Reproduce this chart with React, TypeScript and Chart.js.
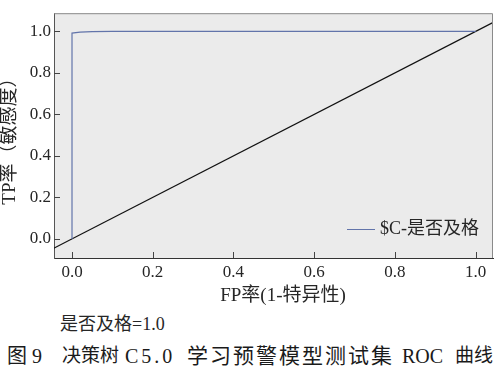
import React, { useEffect, useRef } from "react";
import { Chart, registerables } from "chart.js";

Chart.register(...registerables);

// ---- data ----
const fprValues = [0, 0, 0.02, 0.05, 0.1, 1.0];
const tprValues = [0, 0.992, 0.996, 0.999, 1.0, 1.0];
const diagonalX = [-0.1, 1.1];
const diagonalY = [-0.1, 1.1];
const xTickValues = [0, 0.2, 0.4, 0.6, 0.8, 1.0];
const yTickValues = [0, 0.2, 0.4, 0.6, 0.8, 1.0];
const seriesLabel = "$C-是否及格";
const xTitle = "FP率(1-特异性)";
const yTitle = "TP率（敏感度）";
const footnote = "是否及格=1.0";
const captionParts = [
  { text: "图", left: 7, size: 20, spacing: 0 },
  { text: "9", left: 32, size: 20, spacing: 0 },
  { text: "决策树", left: 62, size: 19, spacing: 0 },
  { text: "C5.0", left: 125, size: 20, spacing: 3 },
  { text: "学习预警模型测试集", left: 187, size: 21, spacing: 2 },
  { text: "ROC", left: 402, size: 20, spacing: 0 },
  { text: "曲线", left: 455, size: 19, spacing: 0 },
];

const FONT = "'Times New Roman', 'Liberation Serif', 'Noto Sans CJK SC', serif";
const ROC_COLOR = "#6274aa";
const TEXT = "#262626";

const framePlugin = {
  id: "frameDecor",
  beforeDraw(chart: any) {
    const { ctx, chartArea: a } = chart;
    ctx.save();
    ctx.fillStyle = "#ebebeb";
    ctx.fillRect(a.left, a.top, a.right - a.left, a.bottom - a.top);
    ctx.restore();
  },
  afterDraw(chart: any) {
    const { ctx, chartArea: a } = chart;
    ctx.save();
    // top & right frame
    ctx.strokeStyle = "#8a8a8a";
    ctx.lineWidth = 1;
    ctx.beginPath();
    ctx.moveTo(a.left, a.top + 0.5);
    ctx.lineTo(a.right - 0.5, a.top + 0.5);
    ctx.lineTo(a.right - 0.5, a.bottom);
    ctx.stroke();
    // inside ticks
    const xs = chart.scales.x;
    const ys = chart.scales.y;
    ctx.strokeStyle = "#444";
    ctx.beginPath();
    xTickValues.forEach((v) => {
      const px = Math.round(xs.getPixelForValue(v)) + 0.5;
      ctx.moveTo(px, a.bottom);
      ctx.lineTo(px, a.bottom - 6);
    });
    yTickValues.forEach((v) => {
      const py = Math.round(ys.getPixelForValue(v)) + 0.5;
      ctx.moveTo(a.left, py);
      ctx.lineTo(a.left + 6, py);
    });
    ctx.stroke();
    // legend
    const lx = 347;
    const ly = 229;
    ctx.strokeStyle = ROC_COLOR;
    ctx.lineWidth = 1;
    ctx.beginPath();
    ctx.moveTo(lx, ly + 0.5);
    ctx.lineTo(lx + 28, ly + 0.5);
    ctx.stroke();
    ctx.fillStyle = TEXT;
    ctx.font = `18px ${FONT}`;
    ctx.textBaseline = "middle";
    ctx.textAlign = "left";
    ctx.fillText(seriesLabel, lx + 33, ly);
    // axis titles
    ctx.font = `19px ${FONT}`;
    ctx.textAlign = "center";
    ctx.fillText(xTitle, 283, 296.5);
    ctx.translate(10, (a.top + a.bottom) / 2 + 1);
    ctx.rotate(-Math.PI / 2);
    ctx.fillText(yTitle, 0, 0);
    ctx.restore();
  },
};

export default function App() {
  const ref = useRef<HTMLCanvasElement>(null);
  useEffect(() => {
    if (!ref.current) return;
    const chart = new Chart(ref.current, {
      type: "line",
      data: {
        datasets: [
          {
            label: seriesLabel,
            data: fprValues.map((x, i) => ({ x, y: tprValues[i] })),
            borderColor: ROC_COLOR,
            borderWidth: 1.2,
            pointRadius: 0,
            tension: 0,
            fill: false,
          },
          {
            label: "diagonal",
            data: diagonalX.map((x, i) => ({ x, y: diagonalY[i] })),
            borderColor: "#111",
            borderWidth: 1.2,
            pointRadius: 0,
            fill: false,
          },
        ],
      },
      plugins: [framePlugin],
      options: {
        animation: false,
        responsive: false,
        devicePixelRatio: 1,
        layout: { padding: { top: 2, right: 2, left: 0, bottom: 0 } },
        plugins: {
          legend: { display: false },
          tooltip: { enabled: false },
        },
        scales: {
          x: {
            type: "linear",
            min: -0.0446,
            max: 1.043,
            afterBuildTicks: (s: any) => {
              s.ticks = xTickValues.map((v) => ({ value: v }));
            },
            afterFit: (s: any) => {
              s.height = 52;
            },
            grid: { display: true, drawOnChartArea: false, drawTicks: false },
            border: { display: true, color: "#333", width: 1 },
            ticks: {
              padding: 4,
              color: TEXT,
              font: { family: FONT, size: 17 },
              callback: (v: any) => Number(v).toFixed(1),
              maxRotation: 0,
            },
          },
          y: {
            type: "linear",
            min: -0.092,
            max: 1.0876,
            afterBuildTicks: (s: any) => {
              s.ticks = yTickValues.map((v) => ({ value: v }));
            },
            afterFit: (s: any) => {
              s.width = 54;
            },
            grid: { display: true, drawOnChartArea: false, drawTicks: false },
            border: { display: true, color: "#555", width: 1 },
            ticks: {
              padding: 3,
              color: TEXT,
              font: { family: FONT, size: 17 },
              callback: (v: any) => Number(v).toFixed(1),
            },
          },
        },
      },
    });
    return () => chart.destroy();
  }, []);

  return (
    <div
      style={{
        position: "fixed",
        left: 0,
        top: 0,
        width: 495,
        height: 368,
        background: "#fff",
        overflow: "hidden",
      }}
    >
      <canvas
        ref={ref}
        width={495}
        height={310}
        style={{ position: "absolute", left: 0, top: 0, width: 495, height: 310 }}
      />
      <div
        style={{
          position: "absolute",
          left: 60,
          top: 313,
          fontFamily: FONT,
          fontSize: 18,
          color: TEXT,
          whiteSpace: "nowrap",
          lineHeight: "22px",
        }}
      >
        {footnote}
      </div>
      {captionParts.map((p, i) => (
        <div
          key={i}
          style={{
            position: "absolute",
            left: p.left,
            top: 344,
            fontFamily: FONT,
            fontSize: p.size,
            letterSpacing: p.spacing,
            color: "#1a1a1a",
            whiteSpace: "nowrap",
            lineHeight: "24px",
          }}
        >
          {p.text}
        </div>
      ))}
    </div>
  );
}
